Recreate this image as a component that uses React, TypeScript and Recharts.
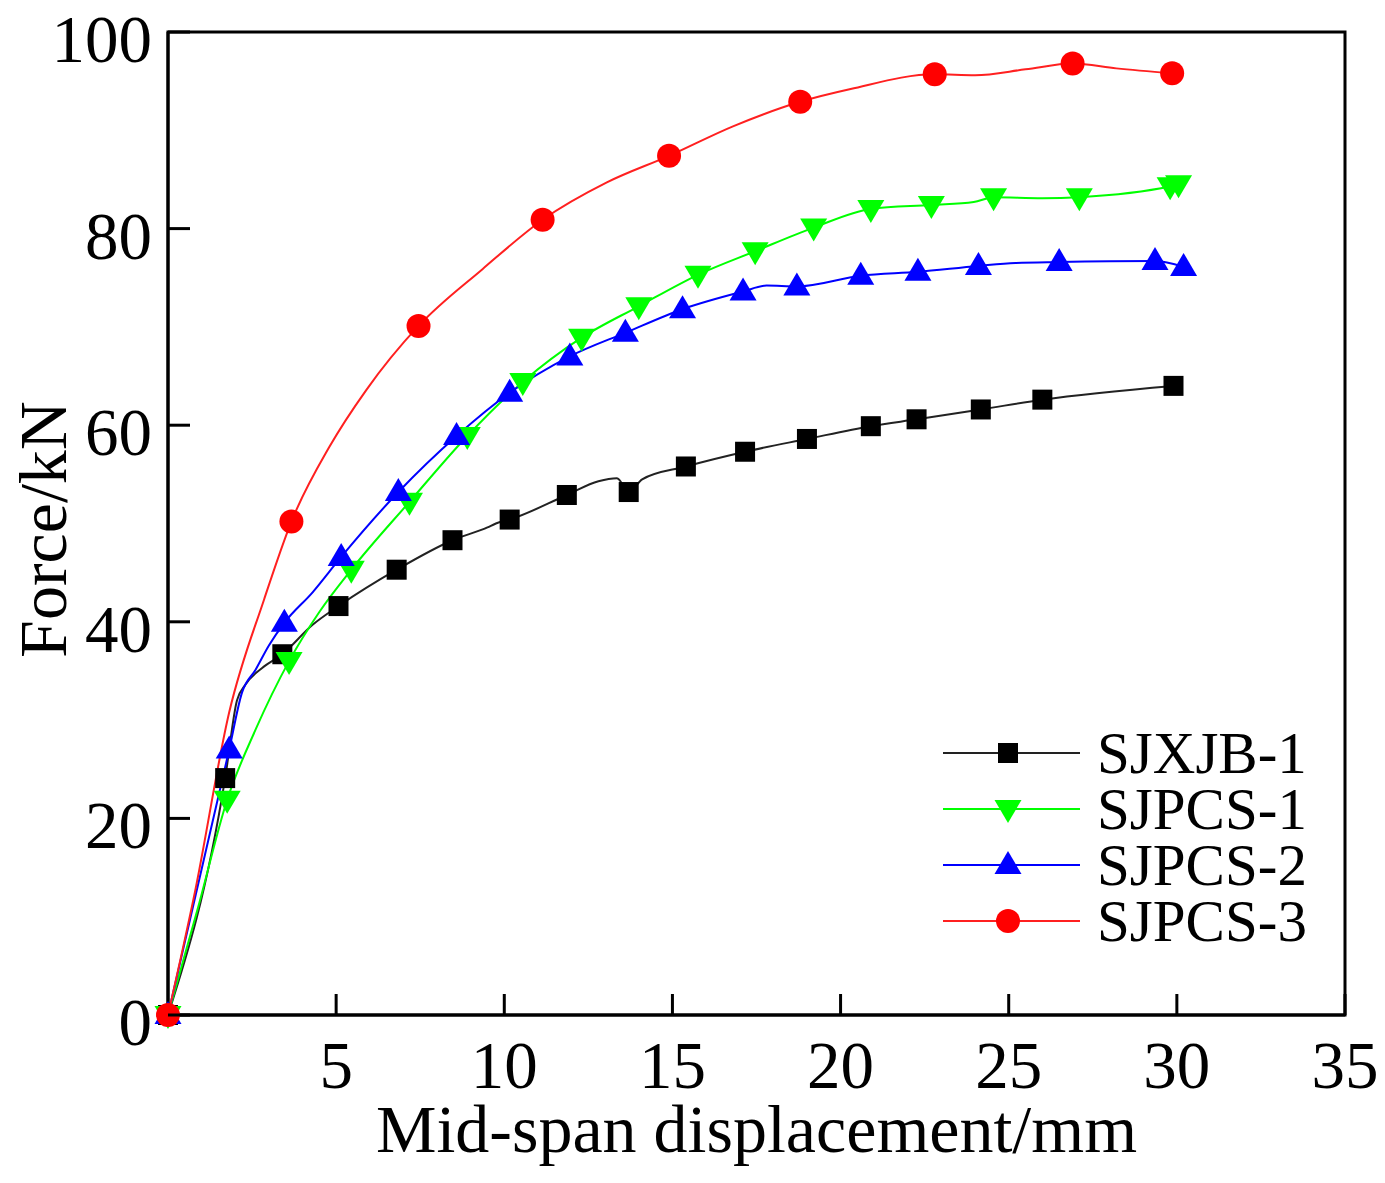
import React from 'react'
import { LineChart, Line, XAxis, YAxis, Legend, ReferenceArea } from 'recharts'

// Force / mid-span displacement curves.
// markers = the symbols drawn on each curve, path = extra points between them.

type Pt = [number, number]

const xTicks = [5, 10, 15, 20, 25, 30, 35]
const yTicks = [0, 20, 40, 60, 80, 100]

const sjxjb1Markers: Pt[] = [
  [0, 0], [1.7, 24.1], [3.4, 36.7], [5.07, 41.6], [6.8, 45.3], [8.46, 48.3], [10.16, 50.4],
  [11.86, 52.9], [13.7, 53.2], [15.4, 55.8], [17.16, 57.3], [19.0, 58.6], [20.9, 59.9],
  [22.26, 60.6], [24.17, 61.6], [26.0, 62.6], [29.9, 64.0],
]
const sjxjb1Path: Pt[] = [
  [2.05, 32.0], [2.3, 33.6], [2.8, 35.3], [4.3, 39.7], [9.5, 49.6], [9.75, 50.0],
  [12.8, 54.3], [13.35, 54.6], [14.1, 54.5],
]

const sjpcs1Markers: Pt[] = [
  [0, 0], [1.76, 21.9], [3.6, 36.0], [5.45, 45.3], [7.18, 52.2], [8.9, 58.9], [10.55, 64.4],
  [12.3, 68.9], [14.0, 72.1], [15.76, 75.3], [17.46, 77.7], [19.2, 80.1], [20.9, 82.0],
  [22.7, 82.4], [24.55, 83.2], [27.1, 83.2], [29.8, 84.3], [30.05, 84.5],
]
const sjpcs1Path: Pt[] = [[0.9, 11.0], [2.6, 29.0], [4.5, 41.0], [23.96, 82.7], [26.0, 83.1]]

const sjpcs2Markers: Pt[] = [
  [0, 0], [1.82, 27.0], [3.46, 39.9], [5.15, 46.6], [6.85, 53.2], [8.58, 58.9], [10.16, 63.3],
  [11.95, 67.0], [13.6, 69.4], [15.3, 71.8], [17.1, 73.6], [18.7, 74.1], [20.6, 75.2],
  [22.3, 75.6], [24.1, 76.2], [26.5, 76.6], [29.35, 76.7], [30.2, 76.1],
]
const sjpcs2Path: Pt[] = [[2.2, 32.8], [2.6, 35.1], [3.0, 37.6], [4.3, 43.0], [17.8, 74.2], [25.2, 76.5]]

const sjpcs3Markers: Pt[] = [
  [0, 0], [3.67, 50.2], [7.45, 70.1], [11.14, 80.9], [14.9, 87.4], [18.8, 92.9],
  [22.8, 95.7], [26.9, 96.8], [29.86, 95.8],
]
const sjpcs3Path: Pt[] = [
  [0.8, 12.5], [1.82, 30.8], [2.86, 42.3], [4.8, 57.8], [5.9, 63.6],
  [9.36, 75.9], [13.05, 84.7], [16.8, 90.4], [20.3, 94.2], [24.0, 95.6], [25.5, 96.2], [28.2, 96.3],
]

const build = (markers: Pt[], path: Pt[]) =>
  [
    ...markers.map(([x, y]) => ({ x, y, mark: true })),
    ...path.map(([x, y]) => ({ x, y, mark: false })),
  ].sort((a, b) => a.x - b.x)

const series = [
  { name: 'SJXJB-1', color: '#000000', line: '#222222', shape: 'square', data: build(sjxjb1Markers, sjxjb1Path) },
  { name: 'SJPCS-1', color: '#00ff00', line: '#00ff00', shape: 'down', data: build(sjpcs1Markers, sjpcs1Path) },
  { name: 'SJPCS-2', color: '#0000ff', line: '#0000ff', shape: 'up', data: build(sjpcs2Markers, sjpcs2Path) },
  { name: 'SJPCS-3', color: '#ff0000', line: '#ff2020', shape: 'circle', data: build(sjpcs3Markers, sjpcs3Path) },
]

const FONT = '"Liberation Serif", "Times New Roman", serif'

function Marker({ shape, cx, cy, color }: { shape: string; cx: number; cy: number; color: string }) {
  if (shape === 'square') return <rect x={cx - 10} y={cy - 10} width={20} height={20} fill={color} />
  if (shape === 'down')
    return <polygon points={`${cx - 13.5},${cy - 9} ${cx + 13.5},${cy - 9} ${cx},${cy + 14}`} fill={color} />
  if (shape === 'up')
    return <polygon points={`${cx - 13.5},${cy + 9} ${cx + 13.5},${cy + 9} ${cx},${cy - 14}`} fill={color} />
  return <circle cx={cx} cy={cy} r={12} fill={color} />
}

const XTick = ({ x, y, payload }: any) => (
  <g>
    <line x1={x} y1={y} x2={x} y2={y - 21} stroke="#000" strokeWidth={3} />
    <text x={x} y={y + 73} textAnchor="middle" fontSize={67} fontFamily={FONT} fill="#000">
      {payload.value}
    </text>
  </g>
)

const YTick = ({ x, y, payload }: any) => (
  <g>
    <line x1={x} y1={y} x2={x + 22} y2={y} stroke="#000" strokeWidth={3} />
    <text x={x - 16} y={y + 30} textAnchor="end" fontSize={67} fontFamily={FONT} fill="#000">
      {payload.value}
    </text>
  </g>
)

const LegendBox = () => (
  <svg width={420} height={230}>
    {series.map((s, i) => {
      const cy = 28 + i * 56
      return (
        <g key={s.name}>
          <line x1={3} y1={cy} x2={140} y2={cy} stroke={s.line} strokeWidth={2} />
          <Marker shape={s.shape} cx={68} cy={cy} color={s.color} />
          <text x={157} y={cy + 20} fontSize={59} fontFamily={FONT} fill="#000">
            {s.name}
          </text>
        </g>
      )
    })}
  </svg>
)

export default function App() {
  return (
    <div style={{ position: 'absolute', left: 0, top: 0, background: '#fff' }}>
      <LineChart width={1385} height={1183} margin={{ top: 32, right: 40, bottom: 0, left: 0 }} style={{ fontFamily: FONT }}>
        <XAxis
          dataKey="x"
          type="number"
          domain={[0, 35]}
          ticks={xTicks}
          height={168}
          tickSize={0}
          tickMargin={0}
          tick={<XTick />}
          axisLine={{ stroke: '#000', strokeWidth: 3 }}
          label={{
            content: ({ viewBox }: any) => (
              <text x={viewBox.x + viewBox.width / 2} y={viewBox.y + 137} textAnchor="middle" fontSize={68} fontFamily={FONT} fill="#000">
                Mid-span displacement/mm
              </text>
            ),
          }}
        />
        <YAxis
          type="number"
          domain={[0, 100]}
          ticks={yTicks}
          width={168}
          tickSize={0}
          tickMargin={0}
          tick={<YTick />}
          axisLine={{ stroke: '#000', strokeWidth: 3 }}
          label={{
            content: ({ viewBox }: any) => {
              const cx = 66
              const cy = viewBox.y + viewBox.height / 2 + 6
              return (
                <text x={cx} y={cy} transform={`rotate(-90, ${cx}, ${cy})`} textAnchor="middle" fontSize={68} fontFamily={FONT} fill="#000">
                  Force/kN
                </text>
              )
            },
          }}
        />
        <ReferenceArea x1={0} x2={35} y1={0} y2={100} fill="none" fillOpacity={0} stroke="#000" strokeWidth={3} />
        {series.map((s) => (
          <Line
            key={s.name}
            data={s.data}
            dataKey="y"
            name={s.name}
            type="monotone"
            stroke={s.line}
            strokeWidth={2}
            isAnimationActive={false}
            activeDot={false}
            dot={(p: any) =>
              p.payload.mark ? (
                <Marker key={`${s.name}-${p.index}`} shape={s.shape} cx={p.cx} cy={p.cy} color={s.color} />
              ) : (
                <g key={`${s.name}-${p.index}`} />
              )
            }
          />
        ))}
        <Legend
          layout="vertical"
          align="center"
          verticalAlign="middle"
          content={() => <LegendBox />}
          wrapperStyle={{ left: 940, top: 725, width: 420, height: 230 }}
        />
      </LineChart>
    </div>
  )
}
